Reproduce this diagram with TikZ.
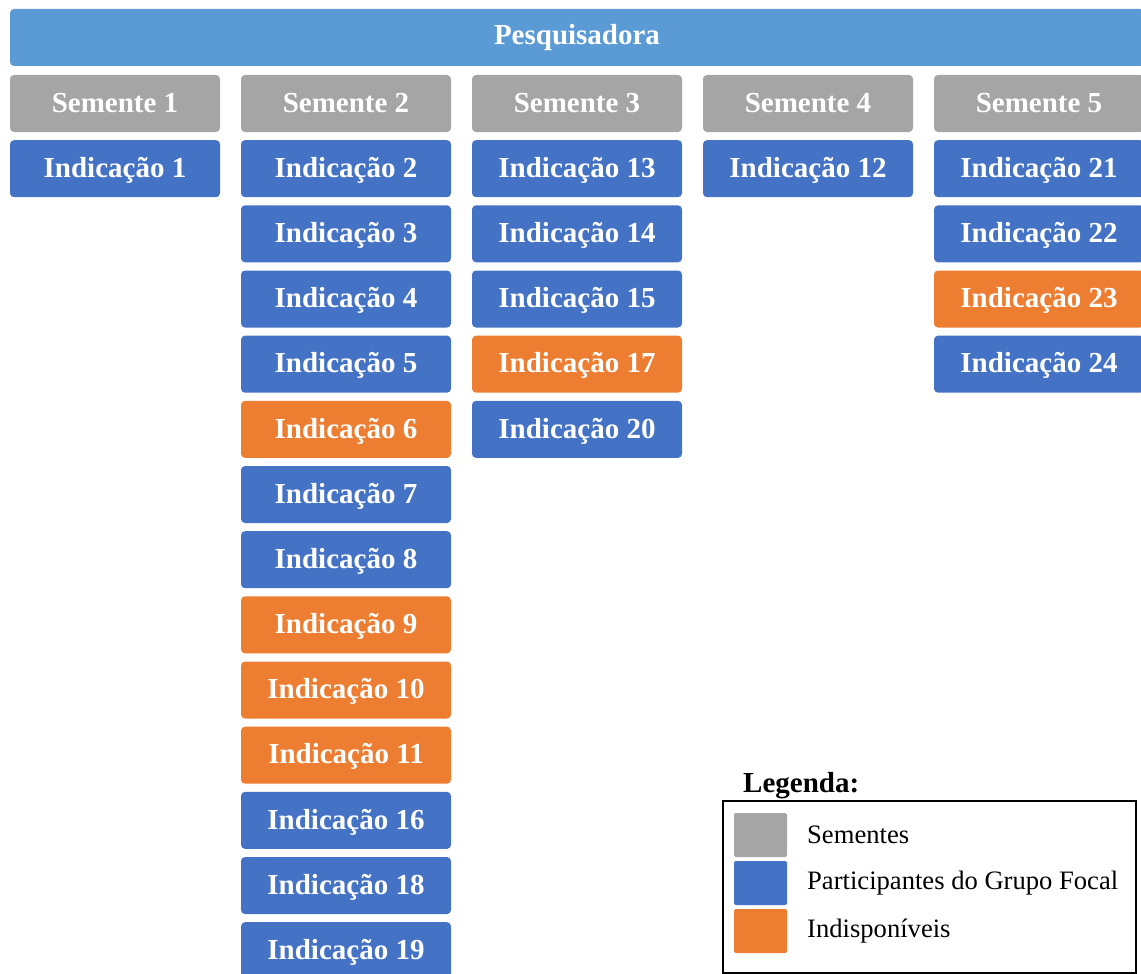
\documentclass[tikz,border=0pt]{standalone}
\usepackage{fontspec}
\setmainfont{Liberation Serif}
\usepackage{tikz}
\usetikzlibrary{positioning}
\definecolor{topblue}{HTML}{5B9BD5}
\definecolor{seedgray}{HTML}{A5A5A5}
\definecolor{partblue}{HTML}{4472C4}
\definecolor{unavorange}{HTML}{ED7D31}
\tikzstyle{box}=[rounded corners=4pt,minimum width=210pt,minimum height=57pt,inner sep=0pt,outer sep=0pt,text=white,font=\bfseries\fontsize{29}{34}\selectfont]
\tikzstyle{seed}=[box,fill=seedgray]
\tikzstyle{part}=[box,fill=partblue,text height=21pt,text depth=3.6pt]
\tikzstyle{unav}=[box,fill=unavorange,text height=21pt,text depth=3.6pt]
\tikzstyle{swatch}=[rounded corners=2pt,minimum width=53pt,minimum height=44pt,inner sep=0pt]
\tikzstyle{legtext}=[anchor=west,inner sep=0pt,font=\fontsize{26.6}{30}\selectfont]

\begin{document}
\begin{tikzpicture}[x=1pt,y=1pt,node distance=8.17pt and 21pt]
\useasboundingbox (0,0) rectangle (1141,-974);
% topo
\node [box,fill=topblue,minimum width=1134pt] (pesq) at (577,-37.5) {Pesquisadora};
% sementes
\node [seed] (sem1) at (115,-103.5) {Semente 1};
\node [seed,right=of sem1] (sem2) {Semente 2};
\node [seed,right=of sem2] (sem3) {Semente 3};
\node [seed,right=of sem3] (sem4) {Semente 4};
\node [seed,right=of sem4] (sem5) {Semente 5};
% semente 1
\node [part,below=of sem1] (ind1) {Indicação 1};
% semente 2
\node [part,below=of sem2] (ind2) {Indicação 2};
\node [part,below=of ind2] (ind3) {Indicação 3};
\node [part,below=of ind3] (ind4) {Indicação 4};
\node [part,below=of ind4] (ind5) {Indicação 5};
\node [unav,below=of ind5] (ind6) {Indicação 6};
\node [part,below=of ind6] (ind7) {Indicação 7};
\node [part,below=of ind7] (ind8) {Indicação 8};
\node [unav,below=of ind8] (ind9) {Indicação 9};
\node [unav,below=of ind9] (ind10) {Indicação 10};
\node [unav,below=of ind10] (ind11) {Indicação 11};
\node [part,below=of ind11] (ind16) {Indicação 16};
\node [part,below=of ind16] (ind18) {Indicação 18};
\node [part,below=of ind18] (ind19) {Indicação 19};
% semente 3
\node [part,below=of sem3] (ind13) {Indicação 13};
\node [part,below=of ind13] (ind14) {Indicação 14};
\node [part,below=of ind14] (ind15) {Indicação 15};
\node [unav,below=of ind15] (ind17) {Indicação 17};
\node [part,below=of ind17] (ind20) {Indicação 20};
% semente 4
\node [part,below=of sem4] (ind12) {Indicação 12};
% semente 5
\node [part,below=of sem5] (ind21) {Indicação 21};
\node [part,below=of ind21] (ind22) {Indicação 22};
\node [unav,below=of ind22] (ind23) {Indicação 23};
\node [part,below=of ind23] (ind24) {Indicação 24};
% legenda
\node [anchor=base west,inner sep=0pt,font=\bfseries\fontsize{29}{34}\selectfont] (legtitle) at (743,-792) {Legenda:};
\draw [line width=1.5pt] (723,-801) rectangle (1136,-973);
\node [swatch,fill=seedgray] (sw1) at (760.5,-835) {};
\node [swatch,fill=partblue] (sw2) at (760.5,-883) {};
\node [swatch,fill=unavorange] (sw3) at (760.5,-931) {};
\node [legtext] (lt1) at (807,-835) {Sementes};
\node [legtext] (lt2) at (807,-883) {Participantes do Grupo Focal};
\node [legtext] (lt3) at (807,-931) {Indisponíveis};
\end{tikzpicture}
\end{document}
